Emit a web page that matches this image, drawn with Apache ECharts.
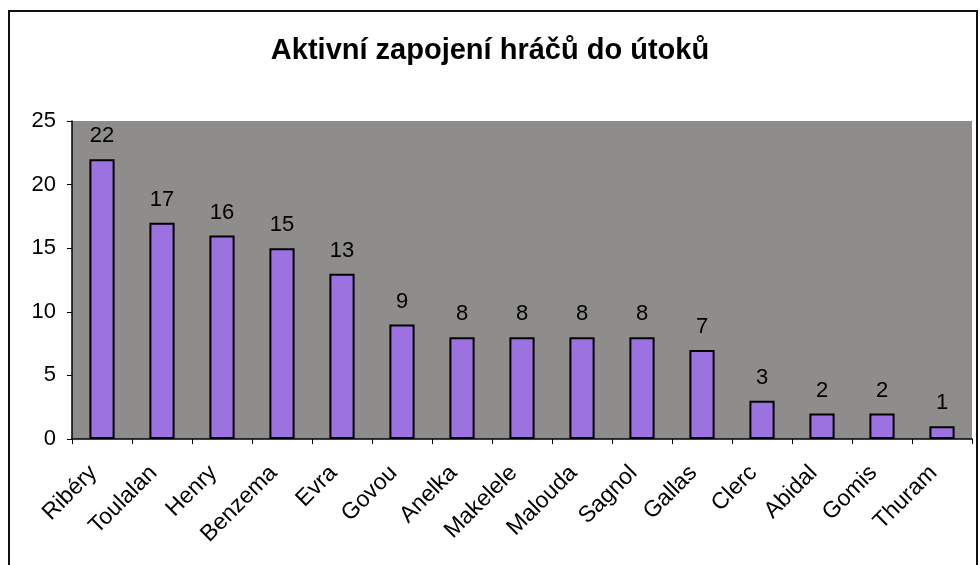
<!DOCTYPE html>
<html>
<head>
<meta charset="utf-8">
<script src="https://cdn.jsdelivr.net/npm/echarts@6/dist/echarts.min.js"></script>
<style>
  html, body { margin: 0; padding: 0; background: #fff; }
  #chart { width: 980px; height: 565px; }
</style>
</head>
<body>
<div id="chart"></div>
<script>
const titleText = 'Aktivní zapojení hráčů do útoků'
const players = ['Ribéry', 'Toulalan', 'Henry', 'Benzema', 'Evra', 'Govou', 'Anelka', 'Makelele',
  'Malouda', 'Sagnol', 'Gallas', 'Clerc', 'Abidal', 'Gomis', 'Thuram']
const attacks = [22, 17, 16, 15, 13, 9, 8, 8, 8, 8, 7, 3, 2, 2, 1]
const yTicks = [0, 5, 10, 15, 20, 25]

const chart = echarts.init(document.getElementById('chart'))

chart.setOption({
  animation: false,
  textStyle: { fontFamily: 'Liberation Sans, Arial, sans-serif' },
  title: {
    text: titleText,
    left: 'center',
    top: 31,
    textStyle: { fontSize: 29, fontWeight: 'bold', color: '#000' }
  },
  graphic: [
    {
      type: 'rect',
      shape: { x: 9, y: 11, width: 968, height: 570 },
      style: { fill: 'none', stroke: '#111', lineWidth: 2 },
      z: -1
    }
  ],
  grid: {
    left: 72,
    right: 8,
    top: 121,
    bottom: 126,
    show: true,
    backgroundColor: '#8e8d8b',
    borderWidth: 0
  },
  xAxis: {
    type: 'category',
    data: players,
    axisLine: { lineStyle: { color: '#000', width: 1.5 } },
    axisTick: { show: true, length: 5, lineStyle: { color: '#000' } },
    axisLabel: {
      rotate: 45,
      color: '#000',
      fontSize: 23,
      margin: 22,
      padding: [0, 12, 0, 0]
    }
  },
  yAxis: {
    type: 'value',
    min: yTicks[0],
    max: yTicks[yTicks.length - 1],
    interval: 5,
    axisLine: { show: true, lineStyle: { color: '#000', width: 1.5 } },
    axisTick: { show: true, length: 5, lineStyle: { color: '#000' } },
    splitLine: { show: false },
    axisLabel: { color: '#000', fontSize: 22, margin: 16 }
  },
  series: [
    {
      type: 'bar',
      data: attacks,
      barWidth: '42%',
      itemStyle: {
        color: '#9b72df',
        borderColor: '#000',
        borderWidth: 2
      },
      label: {
        show: true,
        position: 'top',
        distance: 12,
        color: '#000',
        fontSize: 22
      }
    }
  ]
})
</script>
</body>
</html>
